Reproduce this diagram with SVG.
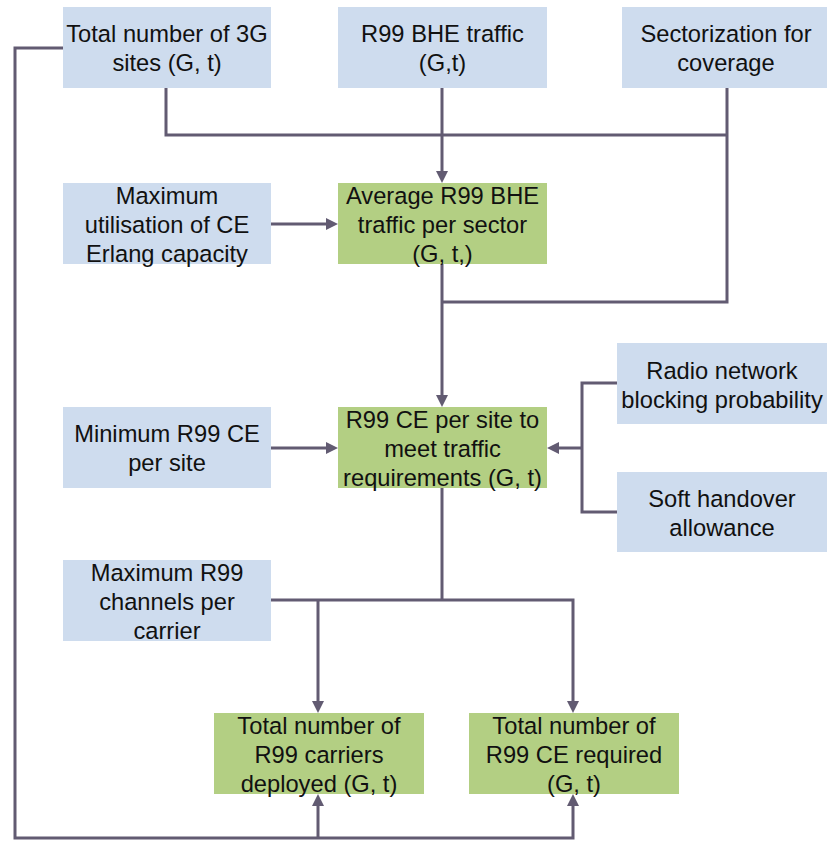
<svg xmlns="http://www.w3.org/2000/svg" width="827" height="841" viewBox="0 0 827 841">
<defs>
<style>
.in{fill:#CEDCEE}
.out{fill:#B3CF83}
text{font-family:"Liberation Sans",Arial,sans-serif;font-size:23.7px;fill:#111;text-anchor:middle}
.c{fill:none;stroke:#625B72;stroke-width:3}
.a{marker-end:url(#ah)}
</style>
<marker id="ah" markerUnits="userSpaceOnUse" markerWidth="12" markerHeight="12" refX="2" refY="6" orient="auto">
<path d="M0,0 L12,6 L0,12 z" fill="#625B72"/>
</marker>
</defs>
<rect width="827" height="841" fill="#fff"/>
<g id="connectors">
<path class="c a" d="M63,48 H15 V838 H573 V804"/>
<path class="c a" d="M318,838 V804"/>
<path class="c" d="M166,88 V135 H727"/>
<path class="c" d="M727,88 V302 H442"/>
<path class="c a" d="M442,88 V173"/>
<path class="c a" d="M442,264 V397"/>
<path class="c a" d="M271,224 H328"/>
<path class="c a" d="M271,448 H328"/>
<path class="c" d="M617,383 H582 V512 H617"/>
<path class="c a" d="M582,448 H557"/>
<path class="c" d="M442,488 V600"/>
<path class="c a" d="M271,600 H573 V703"/>
<path class="c a" d="M318,600 V703"/>
</g>
<g id="sites3g">
<rect class="in" x="63" y="7" width="208" height="81"/>
<text x="167" y="42">Total number of 3G</text>
<text x="167" y="71">sites (G, t)</text>
</g>
<g id="bhe">
<rect class="in" x="338" y="7" width="209" height="81"/>
<text x="442.5" y="42">R99 BHE traffic</text>
<text x="442.5" y="71">(G,t)</text>
</g>
<g id="sector">
<rect class="in" x="622" y="7" width="210" height="81"/>
<text x="726" y="42">Sectorization for</text>
<text x="726" y="71">coverage</text>
</g>
<g id="maxutil">
<rect class="in" x="63" y="183" width="208" height="81"/>
<text x="167" y="203.5">Maximum</text>
<text x="167" y="232.5">utilisation of CE</text>
<text x="167" y="261.5">Erlang capacity</text>
</g>
<g id="avgbhe">
<rect class="out" x="338" y="183" width="209" height="81"/>
<text x="442.5" y="203.5">Average R99 BHE</text>
<text x="442.5" y="232.5">traffic per sector</text>
<text x="442.5" y="261.5">(G, t,)</text>
</g>
<g id="minr99">
<rect class="in" x="63" y="407" width="208" height="81"/>
<text x="167" y="442">Minimum R99 CE</text>
<text x="167" y="471">per site</text>
</g>
<g id="cepersite">
<rect class="out" x="338" y="407" width="209" height="81"/>
<text x="442.5" y="427.5">R99 CE per site to</text>
<text x="442.5" y="456.5">meet traffic</text>
<text x="442.5" y="485.5">requirements (G, t)</text>
</g>
<g id="blocking">
<rect class="in" x="617" y="343" width="212" height="81"/>
<text x="722" y="378.5">Radio network</text>
<text x="722" y="407.5">blocking probability</text>
</g>
<g id="handover">
<rect class="in" x="617" y="472" width="212" height="80"/>
<text x="722" y="507">Soft handover</text>
<text x="722" y="536">allowance</text>
</g>
<g id="maxchannels">
<rect class="in" x="63" y="560" width="208" height="81"/>
<text x="167" y="580.5">Maximum R99</text>
<text x="167" y="609.5">channels per</text>
<text x="167" y="638.5">carrier</text>
</g>
<g id="carriers">
<rect class="out" x="214" y="713" width="210" height="81"/>
<text x="319" y="733.5">Total number of</text>
<text x="319" y="762.5">R99 carriers</text>
<text x="319" y="791.5">deployed (G, t)</text>
</g>
<g id="cerequired">
<rect class="out" x="469" y="713" width="210" height="81"/>
<text x="574" y="733.5">Total number of</text>
<text x="574" y="762.5">R99 CE required</text>
<text x="574" y="791.5">(G, t)</text>
</g>
</svg>
